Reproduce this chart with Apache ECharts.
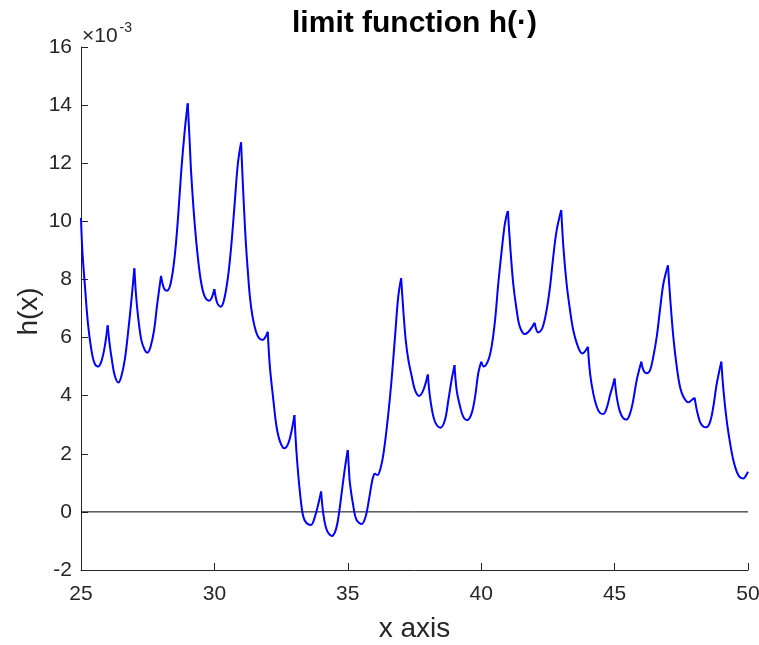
<!DOCTYPE html>
<html>
<head>
<meta charset="utf-8">
<script src="https://cdn.jsdelivr.net/npm/echarts@6/dist/echarts.min.js"></script>
<style>
  html, body { margin: 0; padding: 0; background: #fff; }
  #chart { width: 759px; height: 645px; }
</style>
</head>
<body>
<div id="chart"></div>
<script>
// x positions (x axis) and h(x) values in units of 1e-3
var xValues = [
  25.00, 25.05, 25.14, 25.26, 25.39, 25.51, 25.64, 25.76, 25.89,
  26.00, 26.07, 26.14, 26.26, 26.40, 26.51, 26.64, 26.76, 26.89,
  27.00, 27.06, 27.14, 27.26, 27.39, 27.49, 27.61, 27.74, 27.86,
  28.00, 28.11, 28.22, 28.36, 28.51, 28.64, 28.76, 28.89,
  29.00, 29.07, 29.13, 29.26, 29.39, 29.51, 29.64, 29.80, 29.89,
  30.00, 30.11, 30.24, 30.36, 30.51, 30.64, 30.76, 30.88,
  31.00, 31.06, 31.12, 31.18, 31.25, 31.33, 31.43, 31.56, 31.68, 31.81, 31.90,
  32.00, 32.08, 32.21, 32.33, 32.46, 32.62, 32.77, 32.90,
  33.00, 33.08, 33.21, 33.33, 33.46, 33.62, 33.77, 33.90,
  34.00, 34.08, 34.21, 34.40, 34.55, 34.67, 34.80, 34.90,
  35.00, 35.04, 35.08, 35.21, 35.33, 35.52, 35.67, 35.79, 35.92,
  36.00, 36.11, 36.27, 36.39, 36.52, 36.64, 36.77, 36.89,
  37.00, 37.08, 37.17, 37.27, 37.40, 37.52, 37.67, 37.83,
  38.00, 38.08, 38.21, 38.33, 38.48, 38.64, 38.77, 38.89,
  39.00, 39.08, 39.21, 39.33, 39.48, 39.64, 39.77, 39.89,
  40.00, 40.10, 40.27, 40.39, 40.52, 40.64, 40.77, 40.89,
  41.00, 41.08, 41.20, 41.33, 41.45, 41.64, 41.83,
  42.00, 42.14, 42.29, 42.45, 42.58, 42.70, 42.83,
  43.00, 43.08, 43.20, 43.33, 43.45, 43.64, 43.79,
  44.00, 44.08, 44.20, 44.33, 44.45, 44.58, 44.70, 44.83, 44.92,
  45.00, 45.08, 45.20, 45.33, 45.45, 45.58, 45.70, 45.83,
  46.00, 46.08, 46.20, 46.33, 46.45, 46.58, 46.70, 46.83,
  47.00, 47.08, 47.20, 47.33, 47.45, 47.58, 47.76, 47.89,
  48.00, 48.08, 48.20, 48.33, 48.43, 48.58, 48.70, 48.83,
  49.00, 49.08, 49.20, 49.33, 49.45, 49.58, 49.70, 49.83, 49.91,
  50.00
];
var hValues = [
  10.12, 9.00, 7.86, 6.49, 5.57, 5.11, 5.00, 5.17, 5.69,
  6.42, 5.80, 5.34, 4.71, 4.45, 4.66, 5.23, 6.14, 7.29,
  8.38, 7.50, 6.72, 5.92, 5.57, 5.48, 5.69, 6.26, 7.18,
  8.12, 7.69, 7.61, 7.86, 8.78, 10.16, 11.76, 13.14,
  14.06, 12.80, 11.65, 9.93, 8.67, 7.86, 7.41, 7.27, 7.35,
  7.67, 7.18, 7.06, 7.29, 8.09, 9.24, 10.62, 11.99,
  12.72, 11.42, 10.27, 9.24, 8.32, 7.41, 6.72, 6.20, 5.97, 5.92, 6.00,
  6.20, 4.99, 3.85, 2.93, 2.42, 2.19, 2.36, 2.82,
  3.33, 2.01, 0.64, -0.16, -0.39, -0.45, -0.16, 0.29,
  0.70, -0.05, -0.62, -0.83, -0.62, -0.05, 0.87, 1.56,
  2.13, 1.50, 0.98, 0.18, -0.28, -0.42, -0.16, 0.41, 1.10,
  1.33, 1.27, 1.67, 2.36, 3.39, 4.54, 6.03, 7.40,
  8.04, 6.95, 5.92, 5.23, 4.65, 4.19, 3.99, 4.19,
  4.73, 3.96, 3.27, 2.99, 2.90, 3.16, 3.85, 4.54,
  5.05, 4.19, 3.62, 3.27, 3.16, 3.39, 3.96, 4.77,
  5.17, 5.00, 5.23, 5.69, 6.60, 7.86, 9.01, 9.93,
  10.36, 9.24, 7.86, 6.94, 6.37, 6.12, 6.26,
  6.51, 6.17, 6.32, 6.94, 7.75, 8.78, 9.70,
  10.39, 9.12, 7.86, 6.94, 6.26, 5.65, 5.45,
  5.68, 4.77, 4.08, 3.62, 3.41, 3.37, 3.56, 4.02, 4.31,
  4.59, 3.96, 3.45, 3.22, 3.18, 3.39, 3.85, 4.54,
  5.17, 4.88, 4.77, 4.88, 5.34, 6.03, 6.94, 7.86,
  8.49, 7.40, 6.03, 4.99, 4.31, 3.96, 3.77, 3.85,
  3.93, 3.51, 3.10, 2.93, 2.91, 3.10, 3.62, 4.42,
  5.17, 4.19, 3.16, 2.36, 1.78, 1.38, 1.19, 1.15, 1.23,
  1.38
];
var zeroLineX = [25, 50];
var zeroLineY = [0, 0];
var xTicks = [25, 30, 35, 40, 45, 50];
var yTicks = [-2, 0, 2, 4, 6, 8, 10, 12, 14, 16];
var exponentText = '\u00d710';
var exponentPower = '-3';
var titleText = 'limit function h(\u00b7)';
var xLabel = 'x axis';
var yLabel = 'h(x)';

// split the curve at the integer cusps so each piece can be smoothed
// while the cusps stay sharp
var pieces = [];
var current = [];
xValues.forEach(function (x, i) {
  current.push([x, hValues[i]]);
  if (i > 0 && Math.abs(x - Math.round(x)) < 1e-9) {
    pieces.push(current);
    current = [[x, hValues[i]]];
  }
});
if (current.length > 1) pieces.push(current);

var zero = zeroLineX.map(function (x, i) { return [x, zeroLineY[i]]; });

var FONT = 'Liberation Sans, Arial, Helvetica, sans-serif';
var AXIS_COLOR = '#262626';

var series = [{
  type: 'line', data: zero, showSymbol: false, silent: true,
  lineStyle: { color: '#000000', width: 1 }, z: 2
}];
pieces.forEach(function (p) {
  series.push({
    type: 'line', data: p, showSymbol: false, smooth: 0.35,
    lineStyle: { color: '#0000ff', width: 2, join: 'miter' }, z: 3
  });
});

var chart = echarts.init(document.getElementById('chart'), null, { renderer: 'canvas' });
chart.setOption({
  animation: false,
  backgroundColor: '#ffffff',
  grid: { left: 81, right: 11, top: 47, bottom: 75, containLabel: false, outerBoundsMode: 'none' },
  xAxis: {
    type: 'value',
    min: xTicks[0], max: xTicks[xTicks.length - 1], interval: 5,
    name: xLabel, nameLocation: 'middle', nameGap: 45, nameMoveOverlap: false,
    nameTextStyle: { fontFamily: FONT, fontSize: 28, color: AXIS_COLOR },
    axisLine: { show: true, onZero: false, lineStyle: { color: AXIS_COLOR, width: 1 } },
    axisTick: { show: true, inside: true, length: 7, lineStyle: { color: AXIS_COLOR } },
    axisLabel: { margin: 14, fontFamily: FONT, fontSize: 21, color: AXIS_COLOR },
    splitLine: { show: false }
  },
  yAxis: {
    type: 'value',
    min: yTicks[0], max: yTicks[yTicks.length - 1], interval: 2,
    name: yLabel, nameLocation: 'middle', nameGap: 38, nameRotate: 90, nameMoveOverlap: false,
    nameTextStyle: { fontFamily: FONT, fontSize: 28, color: AXIS_COLOR, padding: [0, 6, 0, 0] },
    axisLine: { show: true, onZero: false, lineStyle: { color: AXIS_COLOR, width: 1 } },
    axisTick: { show: true, inside: true, length: 7, lineStyle: { color: AXIS_COLOR } },
    axisLabel: { margin: 9, fontFamily: FONT, fontSize: 21, color: AXIS_COLOR },
    splitLine: { show: false }
  },
  graphic: [
    { type: 'text', x: 414.5, y: 24, style: {
        text: titleText, align: 'center', verticalAlign: 'middle',
        font: 'bold 30px ' + FONT, fill: '#000000' } },
    { type: 'text', x: 82, y: 36.3, style: {
        text: exponentText, align: 'left', verticalAlign: 'middle',
        font: '21px ' + FONT, fill: AXIS_COLOR } },
    { type: 'text', x: 119.5, y: 28.5, style: {
        text: exponentPower, align: 'left', verticalAlign: 'middle',
        font: '14px ' + FONT, fill: AXIS_COLOR } }
  ],
  series: series
});
</script>
</body>
</html>
